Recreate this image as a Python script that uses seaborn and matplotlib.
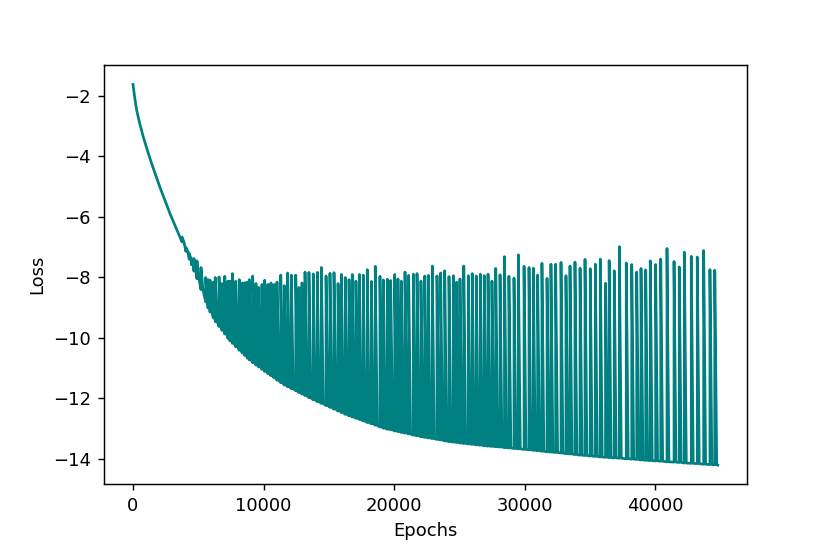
import pandas as pd
import seaborn as sns
from matplotlib import pyplot as plt

# smooth start of the curve, before the spikes begin
smooth_epochs = [0, 140, 280, 520, 790, 1100, 1430, 2070, 2830, 3600]
smooth_loss = [-1.62, -2.08, -2.47, -2.92, -3.36, -3.80, -4.24, -5.03, -5.89, -6.67]

# epoch of each spike, the loss it jumps to, and the loss just before it
spike_epochs = [
    3750, 4060, 4310, 4480, 4670, 4900, 5210, 5570, 5750, 5900,
    6150, 6300, 6590, 6820, 7030, 7280, 7430, 7610, 7870, 8140,
    8370, 8560, 8760, 8910, 9170, 9420, 9630, 9880, 10090, 10340,
    10570, 10800, 11030, 11320, 11590, 11850, 12130, 12470, 12720, 12950,
    13180, 13480, 13810, 14120, 14430, 14790, 15090, 15400, 15710, 15960,
    16260, 16550, 16800, 17080, 17340, 17640, 17950, 18260, 18560, 18920,
    19180, 19480, 19740, 20050, 20300, 20560, 20840, 21120, 21480, 21760,
    22060, 22350, 22620, 22930, 23290, 23570, 23880, 24210, 24540, 24800,
    25050, 25340, 25690, 25990, 26300, 26610, 26910, 27200, 27500, 27790,
    28120, 28460, 28800, 29190, 29520, 29960, 30340, 30670, 31000, 31330,
    31720, 32020, 32380, 32790, 33170, 33480, 33860, 34250, 34630, 35030,
    35420, 35800, 36200, 36480, 36870, 37260, 37790, 38210, 38590, 38920,
    39280, 39630, 40040, 40430, 40910, 41450, 41850, 42240, 42770, 43230,
    43720, 44200, 44570,
]
spike_peaks = [
    -6.67, -7.02, -7.22, -7.38, -7.38, -7.46, -7.68, -8.01, -8.08, -8.10,
    -8.16, -8.01, -7.99, -8.21, -7.97, -8.13, -8.13, -7.88, -8.13, -8.08,
    -8.19, -8.18, -8.16, -8.08, -7.96, -8.21, -8.34, -8.24, -8.10, -8.24,
    -8.19, -8.24, -8.16, -7.93, -8.28, -7.86, -7.93, -7.93, -8.34, -8.19,
    -7.83, -7.84, -7.89, -7.84, -7.68, -7.96, -7.87, -7.85, -8.21, -7.91,
    -8.01, -8.08, -7.91, -8.13, -7.91, -7.93, -7.75, -8.14, -7.64, -7.97,
    -8.09, -8.07, -8.11, -7.91, -8.06, -8.13, -7.83, -7.94, -7.90, -7.88,
    -8.13, -7.96, -7.94, -7.63, -7.96, -7.86, -7.79, -7.98, -7.95, -8.16,
    -8.06, -7.63, -7.95, -7.88, -7.96, -7.90, -7.95, -7.90, -8.13, -7.71,
    -7.92, -7.32, -7.97, -8.03, -7.26, -7.64, -7.68, -7.70, -7.93, -7.54,
    -8.04, -7.57, -7.57, -7.51, -7.95, -7.63, -7.50, -7.70, -7.41, -7.72,
    -7.57, -7.40, -8.20, -7.45, -7.79, -6.99, -7.53, -7.58, -7.83, -7.71,
    -7.76, -7.46, -7.58, -7.40, -7.05, -7.48, -7.66, -7.17, -7.31, -7.33,
    -7.12, -7.75, -7.77,
]
spike_bases = [
    -6.83, -7.15, -7.41, -7.59, -7.80, -8.05, -8.41, -8.82, -9.02, -9.15,
    -9.35, -9.46, -9.63, -9.76, -9.88, -10.03, -10.11, -10.19, -10.30, -10.42,
    -10.51, -10.59, -10.68, -10.74, -10.83, -10.91, -10.97, -11.05, -11.12, -11.19,
    -11.26, -11.33, -11.41, -11.49, -11.57, -11.63, -11.69, -11.76, -11.82, -11.87,
    -11.92, -11.99, -12.06, -12.12, -12.18, -12.25, -12.31, -12.37, -12.43, -12.48,
    -12.54, -12.59, -12.63, -12.67, -12.71, -12.76, -12.81, -12.85, -12.90, -12.96,
    -13.00, -13.03, -13.05, -13.09, -13.11, -13.14, -13.16, -13.19, -13.23, -13.25,
    -13.28, -13.30, -13.32, -13.34, -13.37, -13.39, -13.42, -13.44, -13.46, -13.47,
    -13.49, -13.50, -13.52, -13.53, -13.55, -13.56, -13.58, -13.59, -13.60, -13.61,
    -13.62, -13.64, -13.65, -13.67, -13.68, -13.70, -13.71, -13.73, -13.74, -13.76,
    -13.78, -13.79, -13.80, -13.82, -13.84, -13.85, -13.87, -13.89, -13.90, -13.92,
    -13.93, -13.95, -13.96, -13.97, -13.98, -13.99, -14.01, -14.02, -14.03, -14.05,
    -14.06, -14.07, -14.08, -14.09, -14.11, -14.12, -14.13, -14.15, -14.16, -14.17,
    -14.19, -14.20, -14.21,
]

end_epoch = 44800
end_loss = -14.22

# a spike falls back to the curve within about this many epochs
decay_epochs = 150

# put the pieces together in drawing order
epochs = list(smooth_epochs)
loss = list(smooth_loss)
for e, b, p in zip(spike_epochs, spike_bases, spike_peaks):
    epochs += [e, e, e + decay_epochs]
    loss += [b, p, b]
epochs.append(end_epoch)
loss.append(end_loss)

df = pd.DataFrame({'Epochs': epochs, 'Loss': loss})

fig = plt.figure(figsize=(830 / 130, 554 / 130), dpi=130)
ax = fig.add_axes([0.125, 0.126, 0.775, 0.756])
sns.lineplot(data=df, x='Epochs', y='Loss', estimator=None, sort=False,
             color='teal', linewidth=1.5, ax=ax)

fig.savefig('out.png', dpi=130)
